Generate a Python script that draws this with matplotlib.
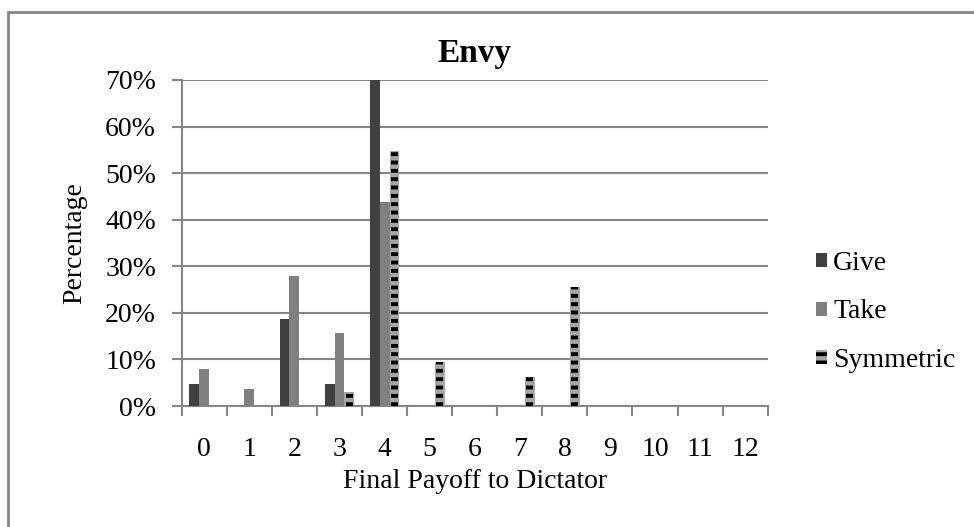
import matplotlib
matplotlib.use("Agg")
import matplotlib.pyplot as plt
import numpy as np
from matplotlib.patches import Rectangle

# payoff categories and share of dictators (fractions) per treatment
payoffs = list(range(13))
give = [0.047, 0, 0.186, 0.047, 0.70, 0, 0, 0, 0, 0, 0, 0, 0]
take = [0.079, 0.037, 0.279, 0.157, 0.438, 0, 0, 0, 0, 0, 0, 0, 0]
symmetric = [0, 0, 0, 0.03, 0.548, 0.094, 0, 0.062, 0.256, 0, 0, 0, 0]
y_ticks = [0, 0.1, 0.2, 0.3, 0.4, 0.5, 0.6, 0.7]
y_labels = ["0%", "10%", "20%", "30%", "40%", "50%", "60%", "70%"]

plt.rcParams["font.family"] = ["Liberation Serif", "DejaVu Serif"]
plt.rcParams["hatch.linewidth"] = 2.8

GRID = "#868686"
C_GIVE, C_TAKE, C_SYM = "#404040", "#808080", "#a6a6a6"
FS = 20

fig = plt.figure(figsize=(9.74, 5.27), dpi=100)
ax = fig.add_axes([0.1866, 0.2296, 0.6016, 0.6186])

x = np.arange(len(payoffs))
w = 0.22
ax.bar(x - w, give, w, color=C_GIVE, zorder=3)
ax.bar(x, take, w, color=C_TAKE, zorder=3)
ax.bar(x + w, symmetric, w, color=C_SYM, zorder=3)
# black dashes inside the symmetric bars (not spanning the full width)
ax.bar(x + w, symmetric, w * 0.7, fill=False, hatch="--", edgecolor="black",
       linewidth=0, zorder=4)

ax.set_xlim(-0.5, 12.5)
ax.set_ylim(0, 0.7)
ax.set_xticks(x)
ax.set_xticklabels([str(p) for p in payoffs], fontsize=FS)
ax.set_xticks(np.arange(-0.5, 13, 1), minor=True)
ax.tick_params(axis="x", which="major", length=0, pad=22)
ax.tick_params(axis="x", which="minor", length=7, width=1.5, color=GRID)
ax.set_yticks(y_ticks)
ax.set_yticklabels(y_labels, fontsize=FS)
ax.tick_params(axis="y", length=7.5, width=1.5, color=GRID, pad=11)

ax.grid(axis="y", color=GRID, linewidth=1.5, zorder=0)
for s in ("top", "right"):
    ax.spines[s].set_visible(False)
for s in ("left", "bottom"):
    ax.spines[s].set_color(GRID)
    ax.spines[s].set_linewidth(1.5)

ax.set_title("Envy", fontsize=24, fontweight="bold", pad=13)
ax.set_ylabel("Percentage", fontsize=FS, labelpad=13)
ax.set_xlabel("Final Payoff to Dictator", fontsize=FS, labelpad=5)

handles = [
    Rectangle((0, 0), 1, 1, facecolor=C_GIVE),
    Rectangle((0, 0), 1, 1, facecolor=C_TAKE),
    Rectangle((0, 0), 1, 1, facecolor=C_SYM, hatch="--", edgecolor="black", linewidth=0),
]
fig.legend(handles, ["Give", "Take", "Symmetric"], loc="center left",
           bbox_to_anchor=(0.8125, 0.408), frameon=False, fontsize=FS,
           handlelength=0.4, handleheight=0.4, handletextpad=0.2, labelspacing=0.86)

# outer chart border (only top/left edges fall inside the image)
fig.add_artist(Rectangle((8 / 974, -0.1), 1.2, 1 - 12 / 527 + 0.1,
                         transform=fig.transFigure, fill=False,
                         edgecolor=GRID, linewidth=2))

fig.savefig("out.png", dpi=100)
